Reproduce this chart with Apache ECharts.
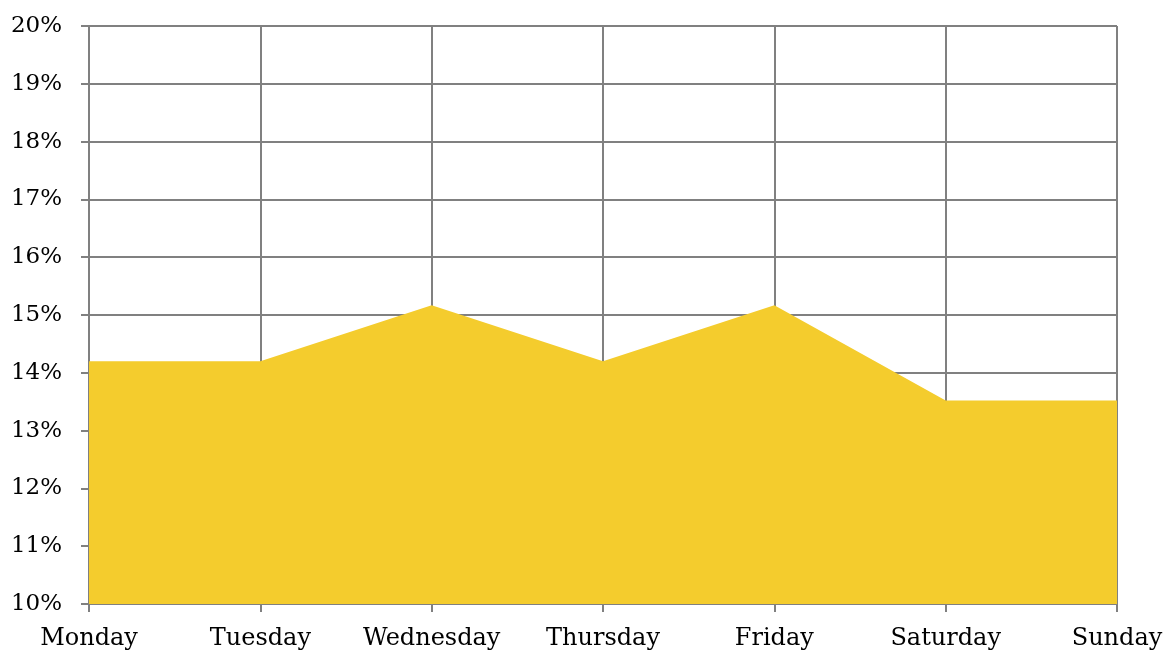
<!DOCTYPE html>
<html>
<head>
<meta charset="utf-8">
<script src="https://cdn.jsdelivr.net/npm/echarts@6/dist/echarts.min.js"></script>
<style>
html,body{margin:0;padding:0;background:#fff;}
#chart{width:1169px;height:657px;}
</style>
</head>
<body>
<div id="chart"></div>
<script>
var categories = ['Monday','Tuesday','Wednesday','Thursday','Friday','Saturday','Sunday'];
var values = [14.2, 14.2, 15.17, 14.2, 15.17, 13.52, 13.52];
var yMin = 10, yMax = 20, yStep = 1;

var font = 'DejaVu Serif';
var gridColor = '#808080';
var chart = echarts.init(document.getElementById('chart'));
chart.setOption({
  animation: false,
  grid: {left: 89, right: 52, top: 26, bottom: 53, containLabel: false},
  xAxis: {
    type: 'category',
    data: categories,
    boundaryGap: false,
    axisLine: {show: true, lineStyle: {color: gridColor, width: 2}},
    axisTick: {show: true, interval: 0, length: 8, lineStyle: {color: gridColor, width: 2}},
    splitLine: {show: true, interval: 0, lineStyle: {color: gridColor, width: 2}},
    axisLabel: {interval: 0, hideOverlap: false, color: '#000', fontFamily: font, fontSize: 24, margin: 23}
  },
  yAxis: {
    type: 'value',
    min: yMin, max: yMax, interval: yStep,
    axisLine: {show: true, lineStyle: {color: gridColor, width: 2}},
    axisTick: {show: true, length: 8, lineStyle: {color: gridColor, width: 2}},
    splitLine: {show: true, lineStyle: {color: gridColor, width: 2}},
    axisLabel: {color: '#000', fontFamily: font, fontSize: 23, margin: 27, formatter: '{value}%'}
  },
  series: [{
    type: 'line',
    data: values,
    showSymbol: false,
    lineStyle: {width: 0},
    areaStyle: {color: '#F4CC2D', opacity: 1},
    itemStyle: {color: '#F4CC2D'}
  }]
});
</script>
</body>
</html>
